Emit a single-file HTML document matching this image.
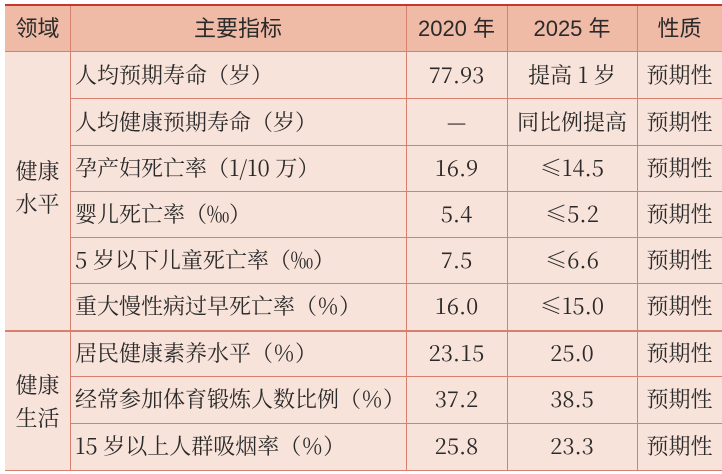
<!DOCTYPE html><html><head><meta charset="utf-8"><style>
body{margin:0;width:722px;height:474px;background:#fff;position:relative;overflow:hidden}
.t{position:absolute;left:5px;top:4px;width:717px;height:467px;background:#f8e3da;border-top:2px solid #c8372d;border-bottom:1px solid #d4806f;box-sizing:border-box}
.h{position:absolute;left:0;top:0;width:717px;height:45px;background:#efbaa6}
.hl{position:absolute;height:1px;background:#d8806f}
.vl{position:absolute;width:1px;background:#d8806f}
.c{position:absolute;font-family:"Noto Serif CJK SC","Liberation Serif",serif;font-size:22px;color:#2a2a2a;line-height:46px;white-space:nowrap}
.s{font-family:"Liberation Sans","Noto Sans CJK SC",sans-serif;font-size:22px}
</style></head><body><div class="t">
<div class="h"></div>
<div class="hl" style="left:0;top:45px;width:717px"></div>
<div class="hl" style="left:65px;top:92px;width:652px"></div>
<div class="hl" style="left:65px;top:139px;width:652px"></div>
<div class="hl" style="left:65px;top:185px;width:652px"></div>
<div class="hl" style="left:65px;top:231px;width:652px"></div>
<div class="hl" style="left:65px;top:277px;width:652px"></div>
<div class="hl" style="left:0;top:324px;width:717px;height:2px"></div>
<div class="hl" style="left:65px;top:370px;width:652px"></div>
<div class="hl" style="left:65px;top:417px;width:652px"></div>
<div class="vl" style="left:65px;top:0;height:465px"></div>
<div class="vl" style="left:401px;top:0;height:465px"></div>
<div class="vl" style="left:502px;top:0;height:465px"></div>
<div class="vl" style="left:632px;top:0;height:465px"></div>
<div class="c s" style="left:0;width:65px;text-align:center;top:0">领域</div>
<div class="c s" style="left:65px;width:336px;text-align:center;top:0">主要指标</div>
<div class="c s" style="left:401px;width:101px;text-align:center;top:0">2020 年</div>
<div class="c s" style="left:502px;width:130px;text-align:center;top:0">2025 年</div>
<div class="c s" style="left:632px;width:85px;text-align:center;top:0">性质</div>
<div class="c" style="left:0;width:65px;text-align:center;top:148px;line-height:33px">健康<br>水平</div>
<div class="c" style="left:0;width:65px;text-align:center;top:362px;line-height:33px">健康<br>生活</div>
<div style="position:absolute;left:0;top:46px">
<div class="c" style="left:70px;top:0">人均预期寿命（岁）</div><div class="c" style="left:401px;width:101px;text-align:center;top:0">77.93</div><div class="c" style="left:502px;width:130px;text-align:center;top:0">提高 1 岁</div><div class="c" style="left:632px;width:85px;text-align:center;top:0">预期性</div>
<div class="c" style="left:70px;top:47px">人均健康预期寿命（岁）</div><div class="c" style="left:401px;width:101px;text-align:center;top:47px">—</div><div class="c" style="left:502px;width:130px;text-align:center;top:47px">同比例提高</div><div class="c" style="left:632px;width:85px;text-align:center;top:47px">预期性</div>
<div class="c" style="left:70px;top:93px">孕产妇死亡率（1/10 万）</div><div class="c" style="left:401px;width:101px;text-align:center;top:93px">16.9</div><div class="c" style="left:502px;width:130px;text-align:center;top:93px">≤14.5</div><div class="c" style="left:632px;width:85px;text-align:center;top:93px">预期性</div>
<div class="c" style="left:70px;top:139px">婴儿死亡率（‰）</div><div class="c" style="left:401px;width:101px;text-align:center;top:139px">5.4</div><div class="c" style="left:502px;width:130px;text-align:center;top:139px">≤5.2</div><div class="c" style="left:632px;width:85px;text-align:center;top:139px">预期性</div>
<div class="c" style="left:70px;top:185px">5 岁以下儿童死亡率（‰）</div><div class="c" style="left:401px;width:101px;text-align:center;top:185px">7.5</div><div class="c" style="left:502px;width:130px;text-align:center;top:185px">≤6.6</div><div class="c" style="left:632px;width:85px;text-align:center;top:185px">预期性</div>
<div class="c" style="left:70px;top:231px">重大慢性病过早死亡率（％）</div><div class="c" style="left:401px;width:101px;text-align:center;top:231px">16.0</div><div class="c" style="left:502px;width:130px;text-align:center;top:231px">≤15.0</div><div class="c" style="left:632px;width:85px;text-align:center;top:231px">预期性</div>
<div class="c" style="left:70px;top:278px">居民健康素养水平（％）</div><div class="c" style="left:401px;width:101px;text-align:center;top:278px">23.15</div><div class="c" style="left:502px;width:130px;text-align:center;top:278px">25.0</div><div class="c" style="left:632px;width:85px;text-align:center;top:278px">预期性</div>
<div class="c" style="left:70px;top:324px">经常参加体育锻炼人数比例（％）</div><div class="c" style="left:401px;width:101px;text-align:center;top:324px">37.2</div><div class="c" style="left:502px;width:130px;text-align:center;top:324px">38.5</div><div class="c" style="left:632px;width:85px;text-align:center;top:324px">预期性</div>
<div class="c" style="left:70px;top:371px">15 岁以上人群吸烟率（％）</div><div class="c" style="left:401px;width:101px;text-align:center;top:371px">25.8</div><div class="c" style="left:502px;width:130px;text-align:center;top:371px">23.3</div><div class="c" style="left:632px;width:85px;text-align:center;top:371px">预期性</div>
</div>
</div></body></html>
